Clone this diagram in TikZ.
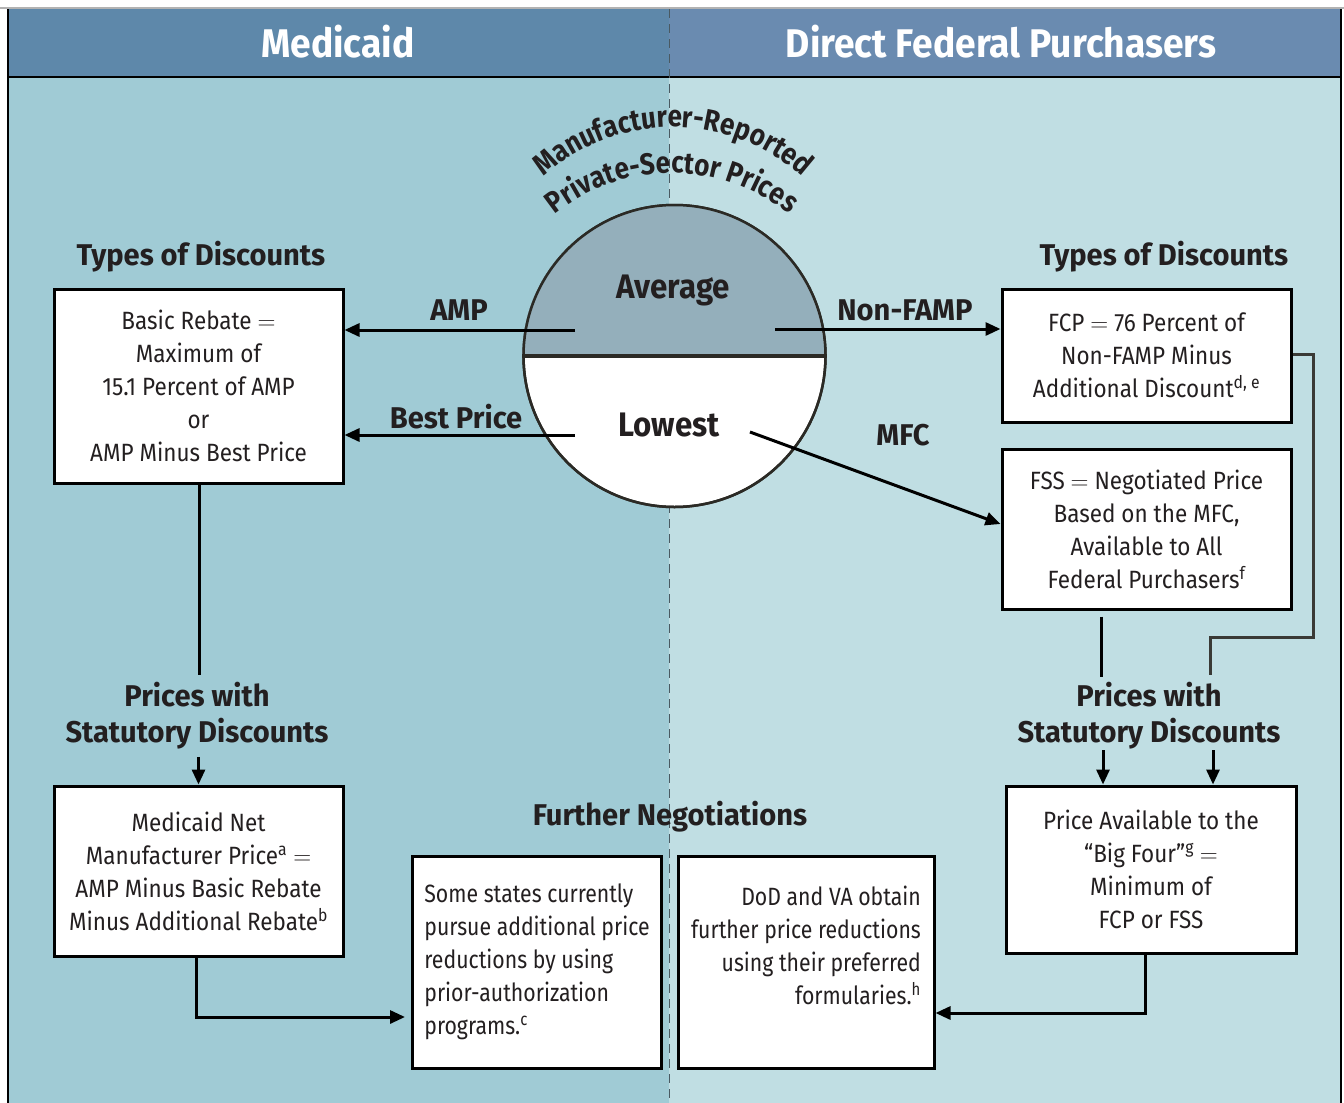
\documentclass[tikz,border=0pt]{standalone}
\usepackage{fontspec}
\setmainfont{Fira Sans}
\newfontfamily\bodyf[FakeStretch=0.9]{Fira Sans}
\newfontfamily\bodyn[FakeStretch=0.85]{Fira Sans}
\newfontfamily\boldf[FakeStretch=0.97]{Fira Sans}
\newfontfamily\bigf[FakeStretch=0.92]{Fira Sans}
\newfontfamily\headf[FakeStretch=0.93]{Fira Sans}
\newfontfamily\curvef[FakeStretch=0.87]{Fira Sans}
\usetikzlibrary{arrows.meta,decorations.text,calc}
\definecolor{hdrL}{HTML}{5E88AA}
\definecolor{hdrR}{HTML}{6A8BB0}
\definecolor{bgL}{HTML}{A0CBD5}
\definecolor{bgR}{HTML}{C0DEE3}
\definecolor{avgc}{HTML}{94AFBB}
\definecolor{txt}{HTML}{231F20}
\definecolor{circc}{HTML}{2B2A25}
\definecolor{divc}{HTML}{4A5A62}
\definecolor{conntwo}{HTML}{3A3A36}
\newcommand{\curvetxt}{\color{txt}\curvef\bfseries\fontsize{30}{30}\selectfont}
\newcommand{\eqs}{$=$}
\begin{document}
\begin{tikzpicture}[x=1pt,y=-1pt,
  box/.style={draw=black, line width=3pt, fill=white, inner sep=0pt,
    font=\bodyf\fontsize{25}{33}\selectfont, text=txt, align=center},
  nbox/.style={box, font=\bodyn\fontsize{25}{33}\selectfont},
  lbl/.style={font=\boldf\bfseries\fontsize{30}{30}\selectfont, text=txt, inner sep=0pt, anchor=base},
  big/.style={font=\bigf\bfseries\fontsize{34}{34}\selectfont, text=txt, inner sep=0pt, anchor=base},
  head/.style={font=\headf\bfseries\fontsize{40}{40}\selectfont, text=white, inner sep=0pt, anchor=base},
  conn/.style={line width=3pt, draw=black},
  arr/.style={conn, -{Triangle[length=15pt,width=13pt]}}
]
\useasboundingbox (0,0) rectangle (1344,1103);
% background
\fill[white] (0,0) rectangle (1344,1103);
\fill[bgL] (8,77) rectangle (669,1103);
\fill[bgR] (669,77) rectangle (1341,1103);
\fill[hdrL] (8,9) rectangle (669,77);
\fill[hdrR] (669,9) rectangle (1341,77);
\draw[gray!60, line width=1.5pt] (0,8) -- (1344,8);
\draw[black, line width=2.5pt] (8,77) -- (1341,77);
\draw[black, line width=2pt] (8,9) -- (8,1103);
\draw[black, line width=2pt] (1341,9) -- (1341,1103);
\draw[divc, line width=0.9pt, dash pattern=on 9pt off 6pt] (669,9) -- (669,1103);

% headers
\node[head] (hL) at (338,57) {Medicaid};
\node[head] (hR) at (1001,57) {Direct Federal Purchasers};

% curved title
\path[decorate, decoration={text along path, text align=center,
  text={|\curvetxt|Manufacturer-Reported}}]
  (673,321) ++(-175:194) arc[start angle=-175, end angle=-5, radius=194];
\path[decorate, decoration={text along path, text align=center,
  text={|\curvetxt|Private-Sector Prices}}]
  (672,359) ++(-170:186) arc[start angle=-170, end angle=-10, radius=186];

% circle
\node[circle, draw=circc, line width=2.5pt, fill=white, minimum size=302pt, inner sep=0pt] (circ) at (674.5,356) {};
\fill[avgc] (circ.west) arc[start angle=180, end angle=360, radius=151];
\draw[circc, line width=2.5pt] (674.5,356) circle[radius=151];
\draw[circc, line width=4pt] (circ.west) -- (circ.east);
\node[big] (avg) at (673,298) {Average};
\node[big] (low) at (669,436) {Lowest};

% section labels
\node[lbl] (tdL) at (201,265) {Types of Discounts};
\node[lbl] (tdR) at (1164,265) {Types of Discounts};
\node[lbl] (pwL1) at (197,706) {Prices with};
\node[lbl] (pwL2) at (197,742) {Statutory Discounts};
\node[lbl] (pwR1) at (1149,706) {Prices with};
\node[lbl] (pwR2) at (1149,742) {Statutory Discounts};
\node[lbl] (fneg) at (670,825) {Further Negotiations};

% boxes
\node[box, minimum width=289pt, minimum height=194pt] (b1) at (198.5,386)
  {Basic Rebate \eqs\\Maximum of\\15.1 Percent of AMP\\or\\AMP Minus Best Price};
\node[box, minimum width=289pt, minimum height=133pt] (fcp) at (1146.5,355.5)
  {FCP \eqs{} 76 Percent of\\Non-FAMP Minus\\Additional Discount\textsuperscript{d, e}};
\node[box, minimum width=289pt, minimum height=160pt] (fss) at (1146.5,529)
  {FSS \eqs{} Negotiated Price\\Based on the MFC,\\Available to All\\Federal Purchasers\textsuperscript{f}};
\node[box, minimum width=289pt, minimum height=170pt] (net) at (198.5,871)
  {Medicaid Net\\Manufacturer Price\textsuperscript{a} \eqs\\AMP Minus Basic Rebate\\Minus Additional Rebate\textsuperscript{b}};
\node[box, minimum width=290pt, minimum height=167pt] (big4) at (1151,869.5)
  {Price Available to the\\“Big Four”\textsuperscript{g} \eqs\\Minimum of\\FCP or FSS};
\node[nbox, align=left, minimum width=249pt, minimum height=212pt] (states) at (537,962)
  {Some states currently\\pursue additional price\\reductions by using\\prior-authorization\\programs.\textsuperscript{c}};
\node[nbox, align=right, minimum width=256pt, minimum height=212pt] (dod) at (806,962)
  {DoD and VA obtain\\further price reductions\\using their preferred\\formularies.\textsuperscript{h}\\\mbox{}};

% arrows from circle
\coordinate (ampS) at (575,330);
\coordinate (bpS) at (575,435);
\coordinate (nfS) at (775,329);
\coordinate (mfcS) at (750,432);
\draw[arr] (ampS) -- (ampS -| b1.east);
\draw[arr] (bpS) -- (bpS -| b1.east);
\draw[arr] (nfS) -- (nfS -| fcp.west);
\draw[arr] (mfcS) -- ($(fss.west)+(0,-5)$);
\node[lbl] (lamp) at (459,320) {AMP};
\node[lbl] (lbp) at (456,428) {Best Price};
\node[lbl] (lnf) at (905,320) {Non-FAMP};
\node[lbl] (lmfc) at (903,445) {MFC};

% left column connectors
\coordinate (lEnd) at (199,675);
\draw[conn] (b1.south -| lEnd) -- (lEnd);
\draw[arr] (pwL2.south -| net.north) ++(0,8) -- (net.north);

% right column connectors
\coordinate (r1e) at (1101,677);
\draw[conn] ($(fss.south -| r1e)+(0,6)$) -- (r1e);
\coordinate (r2e) at (1210,675);
\draw[line width=3pt, draw=conntwo] ($(fcp.east)+(0,-1.5)$) -- (1313,354) -- (1313,637) -- (1210,637) -- (r2e);
\coordinate (a1s) at (1103,750);
\coordinate (a2s) at (1213,750);
\draw[arr] (a1s) -- (a1s |- big4.north);
\draw[arr] (a2s) -- (a2s |- big4.north);

% bottom connectors
\draw[arr] ($(net.south)+(-2,0)$) |- ($(states.west)+(-6,55)$);
\draw[arr] ($(big4.south)+(-6,0)$) |- ($(dod.east)+(0,51)$);
\end{tikzpicture}
\end{document}
